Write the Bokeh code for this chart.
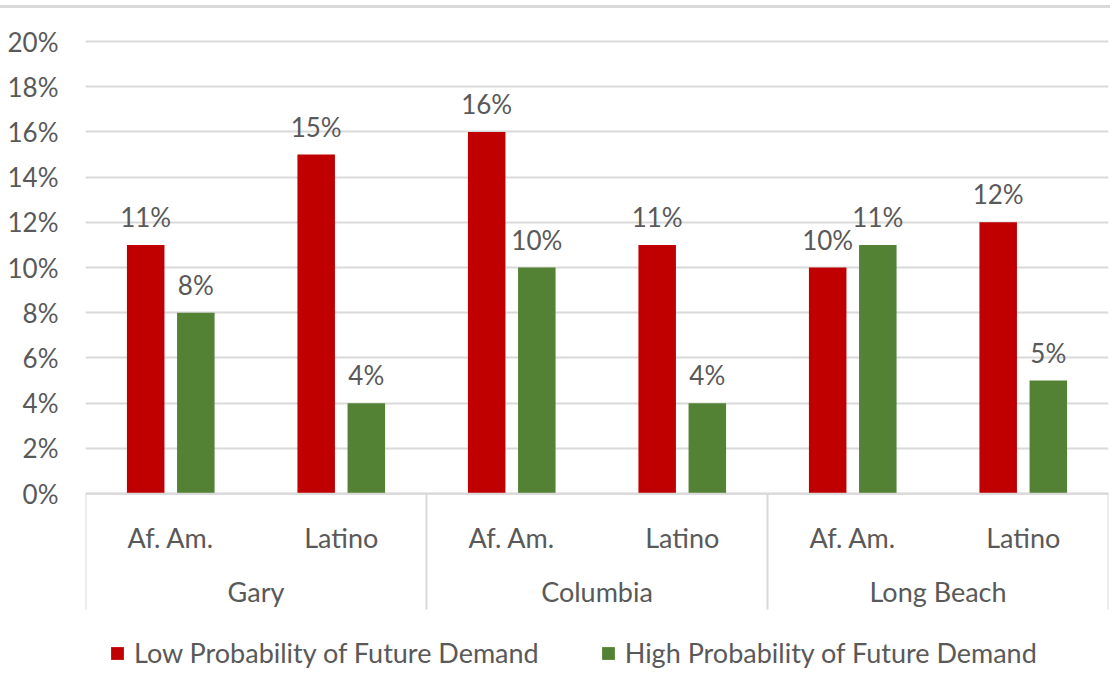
from bokeh.plotting import figure
from bokeh.models import FactorRange, ColumnDataSource, Range1d, FixedTicker, PrintfTickFormatter, Legend, LegendItem
from bokeh.transform import dodge
from bokeh.core.properties import value
from bokeh.embed import file_html
from bokeh.resources import INLINE

cities = ["Gary", "Columbia", "Long Beach"]
groups = ["Af. Am.", "Latino"]
low_demand = [11, 15, 16, 11, 10, 12]
high_demand = [8, 4, 10, 4, 11, 5]
series_names = ["Low Probability of Future Demand", "High Probability of Future Demand"]
y_ticks = [0, 2, 4, 6, 8, 10, 12, 14, 16, 18, 20]

FONT = "Lato"
TXT = "#595959"
GRID = "#d9d9d9"
RED = "#C00000"
GREEN = "#548235"

factors = [(c, g) for c in cities for g in groups]
src = ColumnDataSource(dict(
    x=factors,
    low=low_demand,
    high=high_demand,
    low_lbl=[f"{v}%" for v in low_demand],
    high_lbl=[f"{v}%" for v in high_demand],
))

xr = FactorRange(*factors, factor_padding=0, subgroup_padding=0, group_padding=0, range_padding=0)
p = figure(x_range=xr, y_range=Range1d(-8.62, 21.46), width=1110, height=680,
           output_backend="svg", toolbar_location=None, x_axis_location=None,
           min_border_left=85, min_border_right=2, min_border_top=0, min_border_bottom=0)
p.styles = {"margin-top": "5px", "border-top": "3px solid #d9d9d9"}
p.outline_line_color = None
p.xgrid.visible = False
p.ygrid.grid_line_color = GRID
p.ygrid.grid_line_width = 2
p.ygrid.ticker = FixedTicker(ticks=y_ticks)

ax = p.yaxis[0]
ax.ticker = FixedTicker(ticks=y_ticks)
ax.formatter = PrintfTickFormatter(format="%d%%")
ax.axis_line_color = None
ax.major_tick_line_color = None
ax.minor_tick_line_color = None
ax.major_tick_out = 0
ax.major_tick_in = 0
ax.major_label_standoff = 27
ax.major_label_text_font = FONT
ax.major_label_text_font_size = "26px"
ax.major_label_text_color = TXT

off = 0.147
bw = 0.22
r_low = p.vbar(x=dodge("x", -off, range=xr), top="low", width=bw, bottom=0, source=src,
               fill_color=RED, line_color=None)
r_high = p.vbar(x=dodge("x", off, range=xr), top="high", width=bw, bottom=0, source=src,
                fill_color=GREEN, line_color=None)

p.text(x=dodge("x", -off, range=xr), y="low", text="low_lbl", source=src, y_offset=-28,
       text_align="center", text_baseline="middle", text_font=value(FONT),
       text_font_size="26px", text_color=TXT)
p.text(x=dodge("x", off, range=xr), y="high", text="high_lbl", source=src, y_offset=-28,
       text_align="center", text_baseline="middle", text_font=value(FONT),
       text_font_size="26px", text_color=TXT)

# category axis box
sep_x = [(c, groups[0], -0.5) for c in cities] + [(cities[-1], groups[-1], 0.5)]
p.segment(x0=sep_x, y0=[0] * len(sep_x), x1=sep_x, y1=[-5.13] * len(sep_x),
          line_color=GRID, line_width=2)
p.segment(x0=[(cities[0], groups[0], -0.5)], y0=[0], x1=[(cities[-1], groups[-1], 0.5)], y1=[0],
          line_color=GRID, line_width=2)

p.text(x=factors, y=[-1.95] * len(factors), text=[f[1] for f in factors],
       text_align="center", text_baseline="middle", text_font=value(FONT),
       text_font_size="27px", text_color=TXT)
p.text(x=cities, y=[-4.34] * len(cities), text=cities,
       text_align="center", text_baseline="middle", text_font=value(FONT),
       text_font_size="27px", text_color=TXT)

legend = Legend(items=[LegendItem(label=series_names[0], renderers=[r_low]),
                       LegendItem(label=series_names[1], renderers=[r_high])],
                location=(24, 19), orientation="horizontal")
legend.background_fill_alpha = 0
legend.border_line_color = None
legend.padding = 0
legend.margin = 0
legend.spacing = 61
legend.glyph_width = 16
legend.glyph_height = 16
legend.label_standoff = 9
legend.label_text_font = FONT
legend.label_text_font_size = "27px"
legend.label_text_color = TXT
p.add_layout(legend)

open("out.html", "w").write(file_html(p, INLINE))
